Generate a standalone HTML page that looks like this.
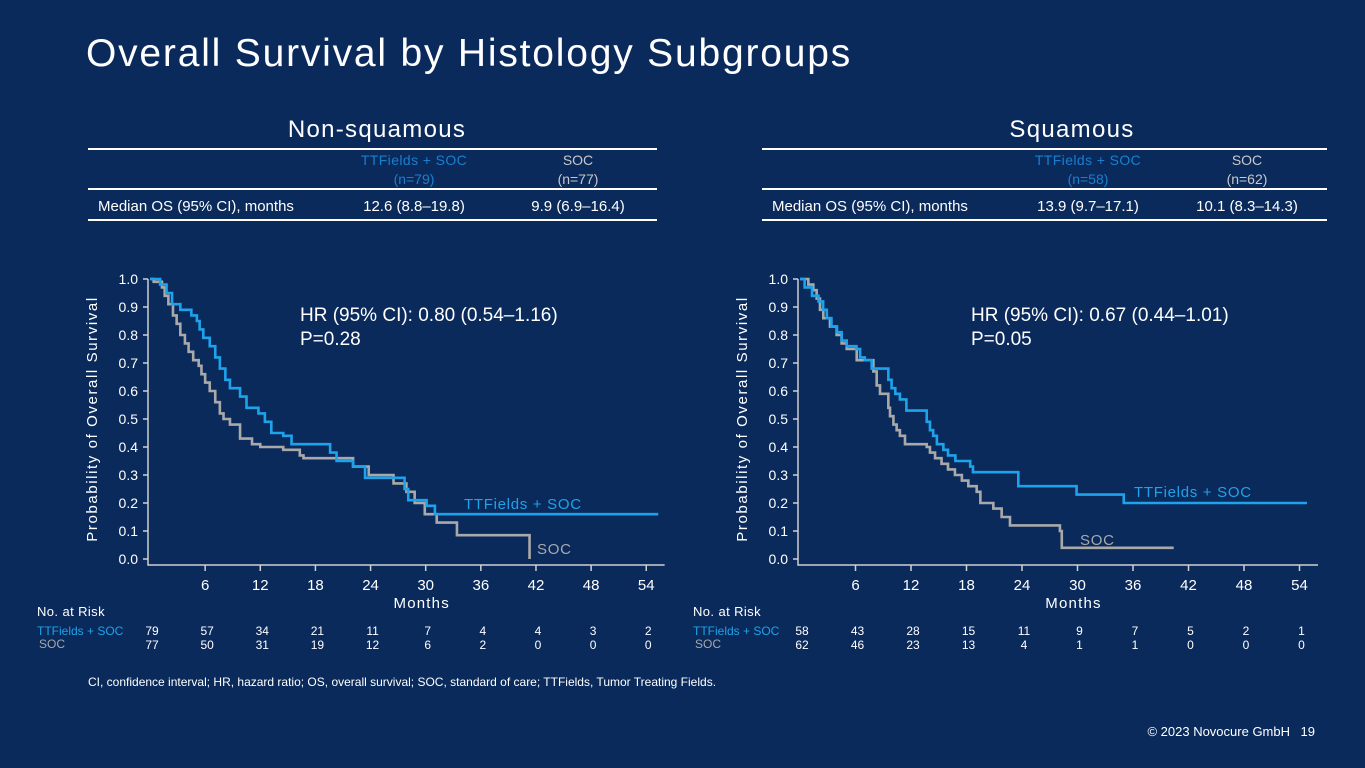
<!DOCTYPE html>
<html><head><meta charset="utf-8">
<style>
html,body{margin:0;padding:0;background:#0a2a5c;}
body{width:1365px;height:768px;overflow:hidden;position:relative;font-family:"Liberation Sans",sans-serif;color:#fff;}
svg{position:absolute;left:0;top:0;}
</style></head>
<body>
<svg id="s" width="1365" height="768" viewBox="0 0 1365 768">
<text x="86" y="66" font-size="39" fill="#fff" letter-spacing="1.8">Overall Survival by Histology Subgroups</text>
<text x="1290" y="736" font-size="13" fill="#fff" text-anchor="end">© 2023 Novocure GmbH</text>
<text x="1315" y="736" font-size="13" fill="#fff" text-anchor="end">19</text>
<text x="88" y="686" font-size="12" fill="#fff">CI, confidence interval; HR, hazard ratio; OS, overall survival; SOC, standard of care; TTFields, Tumor Treating Fields.</text>
</svg>
<script>
const NS="http://www.w3.org/2000/svg";
const svg=document.getElementById('s');
const BLUE="#1ea3ea", GRAY="#a9a9a9", HBLUE="#1a7fd0";

// ---- data: Non-squamous ----
const nsTtfTimes=[0,1.1,1.8,2.4,3.3,4.5,5.1,5.4,5.8,6.5,7.1,7.6,8.2,8.7,9.8,10.5,11.8,12.5,13.2,14.5,15.4,19.6,20.3,22.1,23.4,27.7,28.1,30.1,31.0];
const nsTtfSurv=[1,0.98,0.95,0.91,0.89,0.87,0.85,0.82,0.79,0.76,0.72,0.68,0.64,0.61,0.58,0.54,0.52,0.49,0.45,0.44,0.41,0.38,0.35,0.33,0.29,0.25,0.21,0.19,0.16];
const nsTtfEnd=55.3;
const nsSocTimes=[0,0.4,1.3,1.6,2.0,2.5,2.9,3.3,3.8,4.2,4.7,5.3,5.6,6.0,6.5,7.1,7.6,8.0,8.7,9.8,11.1,12.0,14.5,16.3,16.7,22.1,23.8,26.5,27.9,28.8,29.9,31.2,33.4,41.3];
const nsSocSurv=[1,0.99,0.97,0.94,0.91,0.87,0.84,0.80,0.77,0.74,0.71,0.69,0.66,0.63,0.60,0.56,0.52,0.50,0.48,0.43,0.41,0.40,0.39,0.37,0.36,0.33,0.30,0.27,0.24,0.20,0.16,0.13,0.085,0.0];
const nsSocEnd=41.3;
const nsRiskTtf=[79,57,34,21,11,7,4,4,3,2];
const nsRiskSoc=[77,50,31,19,12,6,2,0,0,0];
// ---- data: Squamous ----
const sqTtfTimes=[0,0.5,1.3,2.0,2.5,2.9,3.4,4.0,4.5,5.05,6.1,6.5,7.0,7.75,9.55,9.9,10.3,10.8,11.5,13.7,14.05,14.4,14.8,15.5,16.0,16.8,18.4,18.7,23.6,29.9,35.0];
const sqTtfSurv=[1,0.97,0.94,0.92,0.89,0.86,0.83,0.81,0.78,0.76,0.75,0.72,0.71,0.68,0.64,0.61,0.59,0.57,0.53,0.49,0.46,0.44,0.41,0.39,0.37,0.35,0.33,0.31,0.26,0.23,0.20];
const sqTtfEnd=54.8;
const sqSocTimes=[0,0.9,1.44,1.8,2.16,2.52,3.24,3.96,4.5,5.05,6.13,7.93,8.29,8.65,9.55,9.73,10.1,10.45,10.8,11.35,13.7,14.05,14.6,15.3,16.0,16.75,17.5,18.2,19.1,19.5,20.9,21.8,22.7,28.1,28.3];
const sqSocSurv=[1,0.98,0.96,0.93,0.89,0.86,0.83,0.80,0.77,0.75,0.71,0.67,0.62,0.59,0.54,0.51,0.48,0.46,0.44,0.41,0.40,0.38,0.36,0.34,0.32,0.30,0.28,0.26,0.24,0.20,0.18,0.15,0.12,0.10,0.04];
const sqSocEnd=40.4;
const sqRiskTtf=[58,43,28,15,11,9,7,5,2,1];
const sqRiskSoc=[62,46,23,13,4,1,1,0,0,0];
const xTicks=[6,12,18,24,30,36,42,48,54];
const yTicks=[0,0.1,0.2,0.3,0.4,0.5,0.6,0.7,0.8,0.9,1.0];
const riskMonths=[0,6,12,18,24,30,36,42,48,54];

function el(tag,attrs,parent){const e=document.createElementNS(NS,tag);for(const k in attrs)e.setAttribute(k,attrs[k]);(parent||svg).appendChild(e);return e;}
function txt(x,y,s,size,fill,anchor,name,parent){const t=el('text',{x:x,y:y,'font-size':size,fill:fill,'text-anchor':anchor||'start'},parent);t.textContent=s;


return t;}

function panel(o){
  const g=el('g',{});
  
  
  const X=m=>o.x0+m*o.pxm, Y=v=>o.y0-v*280;
  txt(o.tcx,137,o.title,24,'#fff','middle','panel-title',g).setAttribute('letter-spacing','1.3');
  for(const [y,w] of [[149,2],[189,2],[220,2]]){const l=el('line',{x1:o.tl,x2:o.tr,y1:y,y2:y,stroke:'#fff','stroke-width':w},g);
    
    }
  txt(o.c1,165,'TTFields + SOC',14,HBLUE,'middle','ttf-col-header',g).setAttribute('letter-spacing','0.4');
  txt(o.c1,184,o.n1,14,HBLUE,'middle','ttf-n',g);
  txt(o.c2,165,'SOC',14,'#c8c8c8','middle','soc-col-header',g);
  txt(o.c2,184,o.n2,14,'#c8c8c8','middle','soc-n',g);
  txt(o.tl+10,211,'Median OS (95% CI), months',15,'#fff','start','row-label',g);
  txt(o.c1,211,o.m1,15,'#fff','middle','ttf-median',g);
  txt(o.c2,211,o.m2,15,'#fff','middle','soc-median',g);
  const ax=el('path',{d:`M${o.x0-2},${Y(1)} V${o.y0+6} H${X(56)}`,stroke:'#d0d0d0','stroke-width':1.5,fill:'none'},g);
  
  
  yTicks.forEach(v=>{const l=el('line',{x1:o.x0-7,x2:o.x0-2,y1:Y(v),y2:Y(v),stroke:'#d0d0d0','stroke-width':1.5},g);
    
    
    txt(o.x0-12,Y(v)+5,v.toFixed(1),14,'#fff','end','y-tick-label',g);});
  xTicks.forEach(m=>{const l=el('line',{x1:X(m),x2:X(m),y1:o.y0+6,y2:o.y0+12,stroke:'#d0d0d0','stroke-width':1.5},g);
    
    
    txt(X(m),o.y0+31,String(m),15,'#fff','middle','x-tick-label',g);});
  txt(X(30)-4,o.y0+49,'Months',15,'#fff','middle','x-axis-title',g).setAttribute('letter-spacing','1.2');
  const yt=txt(0,0,'Probability of Overall Survival',15,'#fff','middle','y-axis-title',g);
  yt.setAttribute('transform',`translate(${o.x0-53},${Y(0.5)}) rotate(-90)`);
  yt.setAttribute('letter-spacing','1.6');
  function curve(times,surv,end,color,name){
    let d=`M${X(times[0])},${Y(surv[0])}`;
    for(let i=1;i<times.length;i++){d+=` H${X(times[i])} V${Y(surv[i])}`;}
    d+=` H${X(end)}`;
    const p=el('path',{d:d,stroke:color,'stroke-width':2.6,fill:'none'},g);
    
    
  }
  curve(o.st,o.ss,o.se,GRAY,'soc-curve');
  curve(o.tt,o.ts,o.te,BLUE,'ttfields-curve');
  txt(o.hrx,321,o.hr,19,'#fff','start','hazard-ratio',g);
  txt(o.hrx,345,o.p,19,'#fff','start','p-value',g);
  txt(o.ttfLx,o.ttfLy,'TTFields + SOC',15,BLUE,'start','ttfields-label',g).setAttribute('letter-spacing','0.7');
  txt(o.socLx,o.socLy,'SOC',15,GRAY,'start','soc-label',g).setAttribute('letter-spacing','0.7');
  txt(o.rl,616,'No. at Risk',13,'#fff','start','risk-title',g).setAttribute('letter-spacing','0.4');
  txt(o.rl,635,'TTFields + SOC',12,BLUE,'start','risk-ttf-label',g);
  txt(o.rl+2,648,'SOC',12,GRAY,'start','risk-soc-label',g);
  riskMonths.forEach((m,i)=>{
    txt(X(m)+2,635,String(o.rt[i]),12,'#fff','middle','risk-ttf-count',g);
    txt(X(m)+2,649,String(o.rs[i]),12,'#fff','middle','risk-soc-count',g);
  });
}
panel({name:'nonsquamous-panel',title:'Non-squamous',tcx:377,tl:88,tr:657,c1:414,c2:578,n1:'(n=79)',n2:'(n=77)',m1:'12.6 (8.8–19.8)',m2:'9.9 (6.9–16.4)',
  x0:150,pxm:9.19,y0:559,tt:nsTtfTimes,ts:nsTtfSurv,te:nsTtfEnd,st:nsSocTimes,ss:nsSocSurv,se:nsSocEnd,rt:nsRiskTtf,rs:nsRiskSoc,
  hrx:300,hr:'HR (95% CI): 0.80 (0.54–1.16)',p:'P=0.28',ttfLx:464,ttfLy:509,socLx:537,socLy:554,rl:37});
panel({name:'squamous-panel',title:'Squamous',tcx:1072,tl:762,tr:1327,c1:1088,c2:1247,n1:'(n=58)',n2:'(n=62)',m1:'13.9 (9.7–17.1)',m2:'10.1 (8.3–14.3)',
  x0:800,pxm:9.25,y0:559,tt:sqTtfTimes,ts:sqTtfSurv,te:sqTtfEnd,st:sqSocTimes,ss:sqSocSurv,se:sqSocEnd,rt:sqRiskTtf,rs:sqRiskSoc,
  hrx:971,hr:'HR (95% CI): 0.67 (0.44–1.01)',p:'P=0.05',ttfLx:1134,ttfLy:497,socLx:1080,socLy:545,rl:693});
</script>
</body></html>
